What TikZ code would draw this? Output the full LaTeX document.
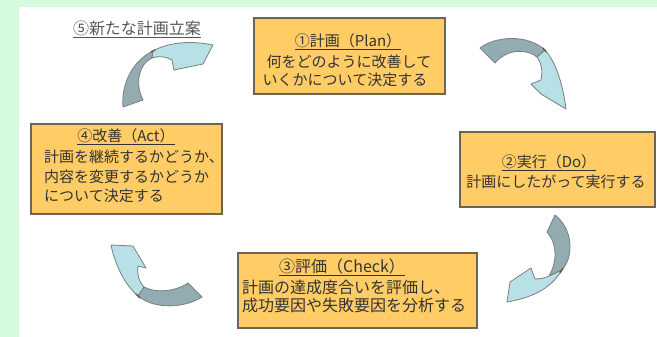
\documentclass[tikz,border=0pt]{standalone}
\usepackage{fontspec}
\setmainfont{Noto Sans CJK JP}
\definecolor{bggreen}{HTML}{D6FADE}
\definecolor{boxfill}{HTML}{FFCC66}
\definecolor{boxline}{HTML}{6E6450}
\definecolor{arrdark}{HTML}{93ACB1}
\definecolor{arrlight}{HTML}{B8E1E7}
\definecolor{arrline}{HTML}{7A7F80}
\definecolor{twistc}{HTML}{5E4E34}
\definecolor{txt}{HTML}{333333}
\definecolor{lbl}{HTML}{555555}
\begin{document}
\begin{tikzpicture}[x=1pt,y=-1pt,
  box/.style={draw=boxline, line width=1.1pt, fill=boxfill, inner sep=0pt, rectangle},
  txtA/.style={inner sep=0pt, text=txt, font=\fontsize{15}{15}\selectfont},
  txtB/.style={inner sep=0pt, text=txt, font=\fontsize{16}{16}\selectfont},
  darkpart/.style={fill=arrdark, draw=arrline, line width=0.8pt, line join=round},
  lightpart/.style={fill=arrlight, draw=arrline, line width=0.8pt, line join=round},
  twist/.style={draw=arrline, line width=0.4pt},
  twistmark/.style={draw=twistc, line width=1.2pt, line cap=round}]
\useasboundingbox (0,0) rectangle (657,337);
\fill[bggreen] (0,0) rectangle (657,337);
\fill[white] (19,7) rectangle (657,337);

% boxes
\node[box, minimum width=191pt, minimum height=76pt] (b1) at (349.5,56) {};
\node[box, minimum width=195pt, minimum height=75pt] (b2) at (557.5,169.5) {};
\node[box, minimum width=239pt, minimum height=75pt] (b3) at (357.5,290.5) {};
\node[box, minimum width=191pt, minimum height=90pt] (b4) at (126.5,169) {};

% box 1
\node[txtA] (t1a) at (348,42) {\underline{①計画（Plan）}};
\node[txtA] (t1b) at (349,62) {何をどのように改善して};
\node[txtA] (t1c) at (345,80) {いくかについて決定する};
% box 2
\node[txtA] (t2a) at (549,163) {\underline{②実行（Do）}};
\node[txtA] (t2b) at (556,182) {計画にしたがって実行する};
% box 3
\node[txtB] (t3a) at (342,267) {\underline{③評価（Check）}};
\node[txtB, anchor=west] (t3b) at (242,287) {計画の達成度合いを評価し、};
\node[txtB, anchor=west] (t3c) at (242,305) {成功要因や失敗要因を分析する};
% box 4
\node[txtA] (t4a) at (126,137) {\underline{④改善（Act）}};
\node[txtA, anchor=west] (t4b) at (44,157) {計画を継続するかどうか、};
\node[txtA, anchor=west] (t4c) at (44,177) {内容を変更するかどうか};
\node[txtA, anchor=west] (t4d) at (44,196) {について決定する};
% label 5
\node[txtB, text=lbl] (l5) at (137,29) {\underline{⑤新たな計画立案}};

% arrow A (top-left)
\path[darkpart] (123,107) .. controls (121,88) and (130,62) .. (153,51) -- (152,58)
  .. controls (140,63) and (134,82) .. (143,100) -- cycle;
\path[lightpart] (153,51) .. controls (163,45) and (185,39) .. (213,45) -- (203,64) -- (174,70) -- (172,60)
  .. controls (165,56) and (157,56) .. (152,58) -- cycle;
\draw[twist] (153,51) -- (152,58);
\draw[twistmark] (151,52) -- (155,50);

% arrow B (top-right)
\path[darkpart] (480,48) .. controls (495,36) and (528,34) .. (545,50) -- (537,57)
  .. controls (527,49) and (508,48) .. (495,63) -- cycle;
\path[lightpart] (545,50) .. controls (556,62) and (563,85) .. (566,109) -- (541,94) -- (531,84) -- (541,80)
  .. controls (543,70) and (541,62) .. (537,57) -- cycle;
\draw[twist] (545,50) -- (537,57);
\draw[twistmark] (543,48) -- (546,52);

% arrow C (right-bottom)
\path[darkpart] (555,215) .. controls (572,228) and (575,255) .. (562,270) -- (549,276)
  .. controls (557,262) and (558,245) .. (547,232) -- cycle;
\path[lightpart] (562,270) .. controls (550,290) and (530,298) .. (507,302) -- (510,282) -- (531,268) -- (535,279)
  .. controls (540,279) and (545,278) .. (549,276) -- cycle;
\draw[twist] (562,270) -- (549,276);
\draw[twistmark] (563,268) -- (560,273);

% arrow D (bottom-left)
\path[darkpart] (202,297) .. controls (185,308) and (155,310) .. (138,296) -- (144,287)
  .. controls (155,293) and (175,292) .. (188,283) -- cycle;
\path[lightpart] (138,296) .. controls (125,285) and (115,265) .. (111,245) -- (133,246) -- (146,268) -- (138,266)
  .. controls (137,275) and (139,282) .. (144,287) -- cycle;
\draw[twist] (138,296) -- (144,287);
\draw[twistmark] (136,294) -- (140,298);
\end{tikzpicture}
\end{document}
